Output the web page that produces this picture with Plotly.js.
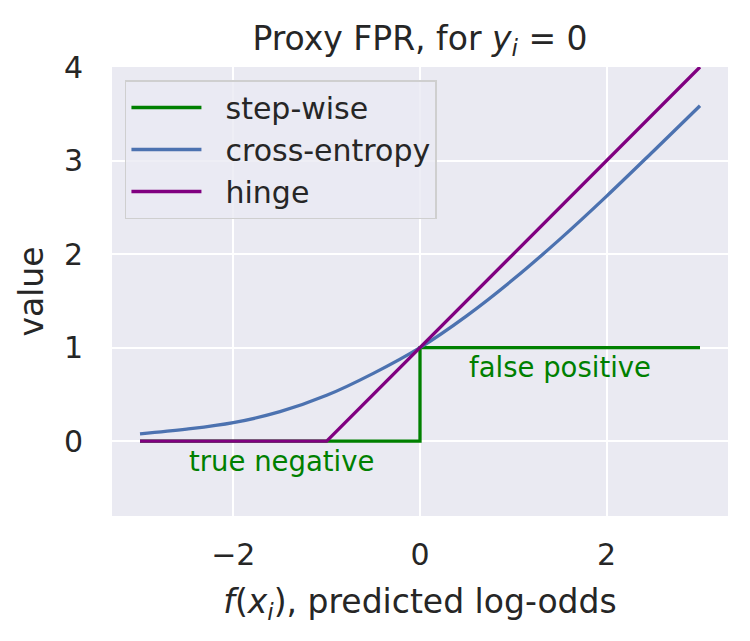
<!DOCTYPE html>
<html>
<head>
<meta charset="utf-8">
<script src="https://cdn.plot.ly/plotly-3.0.1.min.js"></script>
<style>
  body { margin: 0; background: #ffffff; }
  #chart { width: 750px; height: 641px; }
</style>
</head>
<body>
<div id="chart"></div>
<script>
// step-wise proxy: 0 below the threshold, 1 above
const stepX = [-3, 0, 0, 3];
const stepY = [0, 0, 1, 1];

// cross-entropy curve
const ceX = [-3, -2.5, -2, -1.5, -1, -0.5, 0, 0.5, 1, 1.5, 2, 2.5, 3];
const ceY = [0.078, 0.128, 0.198, 0.315, 0.49, 0.725, 1.0, 1.34, 1.73, 2.16, 2.62, 3.10, 3.586];

// hinge
const hingeX = [-3, -1, 3];
const hingeY = [0, 0, 4];

const seriesNames = ["step-wise", "cross-entropy", "hinge"];

const xTicks = [-2, 0, 2];
const xTickText = ["\u22122", "0", "2"];
const yTicks = [0, 1, 2, 3, 4];

const font = "DejaVu Sans, Verdana, sans-serif";
const ink = "#262626";
// two no-break spaces push the legend text away from its line
const pad = "\u00a0\u00a0";

// traces, hinge last so it sits on top of the step line
var step = {
    x: stepX, y: stepY,
    type: "scatter", mode: "lines",
    name: pad + seriesNames[0],
    line: { color: "green", width: 3.3 }
};
var ce = {
    x: ceX, y: ceY,
    type: "scatter", mode: "lines",
    name: pad + seriesNames[1],
    line: { color: "#4c72b0", width: 3.3, shape: "spline", smoothing: 1 }
};
var hinge = {
    x: hingeX, y: hingeY,
    type: "scatter", mode: "lines",
    name: pad + seriesNames[2],
    line: { color: "purple", width: 3.3 }
};

var layout = {
    width: 750,
    height: 641,
    margin: { l: 112, r: 22, t: 67, b: 125 },
    paper_bgcolor: "#ffffff",
    plot_bgcolor: "#eaeaf2",
    font: { family: font, color: ink, size: 30 },
    title: {
        text: "Proxy FPR, for <i>y</i><sub><i>i</i></sub> = 0",
        font: { family: font, size: 33, color: ink },
        x: 0.5, xref: "paper",
        y: 1 - 38 / 641, yref: "container", yanchor: "middle"
    },
    xaxis: {
        range: [-3.3, 3.3],
        tickvals: xTicks,
        ticktext: xTickText,
        showgrid: true, gridcolor: "#ffffff", gridwidth: 2,
        zeroline: false, showline: false,
        ticks: "", ticklabelstandoff: 18,
        tickfont: { family: font, size: 30, color: ink },
        title: {
            text: "<i>f</i>(<i>x</i><sub><i>i</i></sub>), predicted log-odds",
            font: { family: font, size: 33, color: ink },
            standoff: 18
        }
    },
    yaxis: {
        range: [-0.8, 4],
        tickvals: yTicks,
        showgrid: true, gridcolor: "#ffffff", gridwidth: 2,
        zeroline: false, showline: false,
        ticks: "", ticklabelstandoff: 28,
        tickfont: { family: font, size: 30, color: ink },
        title: {
            text: "value",
            font: { family: font, size: 33, color: ink },
            standoff: 10
        }
    },
    legend: {
        x: 0.021, y: 0.971,
        xanchor: "left", yanchor: "top",
        bgcolor: "rgba(234,234,242,0.8)",
        bordercolor: "#cfcfcf", borderwidth: 1.5,
        font: { family: font, size: 30, color: ink },
        itemwidth: 70,
        tracegroupgap: 0
    },
    annotations: [
        {
            x: 0.5, y: 0.79, xref: "x", yref: "y",
            text: "false positive", showarrow: false,
            xanchor: "left", yanchor: "middle",
            font: { family: font, size: 27.5, color: "green" }
        },
        {
            x: -2.5, y: -0.21, xref: "x", yref: "y",
            text: "true negative", showarrow: false,
            xanchor: "left", yanchor: "middle",
            font: { family: font, size: 27.5, color: "green" }
        }
    ],
    showlegend: true
};

Plotly.newPlot("chart", [step, ce, hinge], layout, { displayModeBar: false, staticPlot: true });
</script>
</body>
</html>
